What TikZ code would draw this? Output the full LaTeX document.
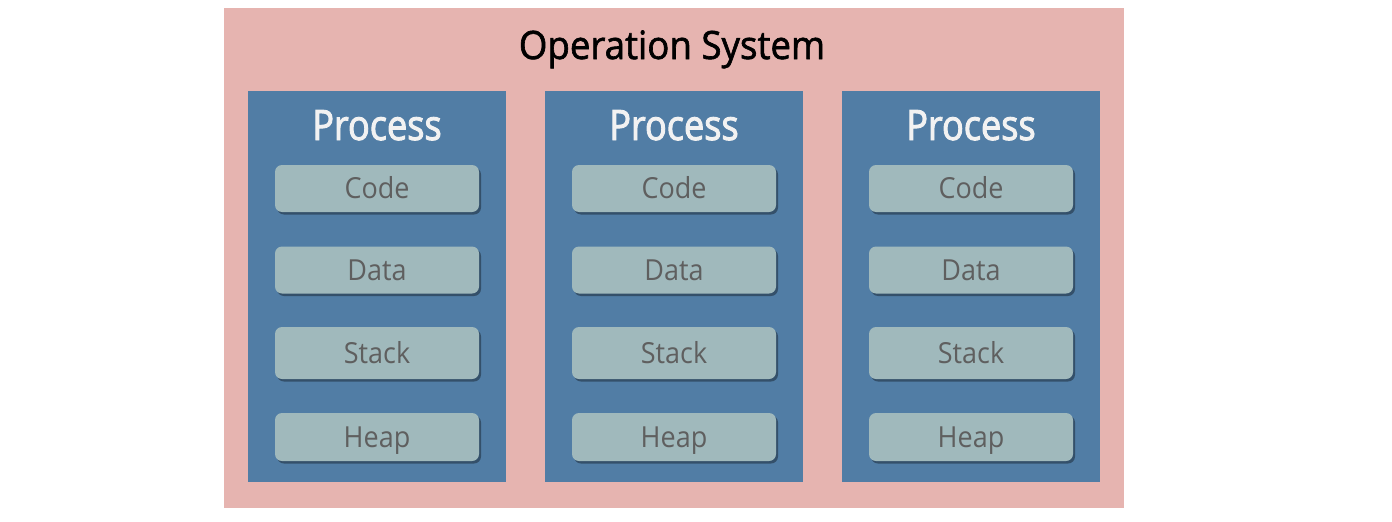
\documentclass[tikz,border=0pt]{standalone}
\usepackage{fontspec}
\setmainfont{Open Sans}
\newfontfamily\titlefont[FakeBold=1.6,FakeStretch=0.94]{Open Sans}
\newfontfamily\procfont[FakeBold=2.2,FakeStretch=0.86]{Open Sans}
\newfontfamily\segfont[FakeStretch=0.93]{Open Sans}
\usetikzlibrary{shadows}
\definecolor{ospink}{HTML}{E6B4B0}
\definecolor{procblue}{HTML}{517DA5}
\definecolor{segfill}{HTML}{A0B9BC}
\definecolor{segtext}{HTML}{5F5F5F}
\definecolor{proctext}{HTML}{F2F2F2}
\tikzset{
  osbox/.style={fill=ospink, draw=none, inner sep=0pt, minimum width=900pt, minimum height=500pt},
  ostitle/.style={font=\titlefont\fontsize{39}{42}\selectfont, text=black, inner sep=0pt, anchor=base},
  procbox/.style={fill=procblue, draw=none, inner sep=0pt, minimum width=258pt, minimum height=391pt},
  proctitle/.style={font=\procfont\fontsize{42}{44}\selectfont, text=proctext, inner sep=0pt, anchor=base},
  segbox/.style={fill=segfill, draw=none, rounded corners=7pt, minimum width=204pt, inner sep=0pt,
    font=\segfont\fontsize{29}{31}\selectfont, text=segtext, text height=20.7pt, text depth=0pt,
    drop shadow={shadow xshift=2pt, shadow yshift=-2.5pt, fill=black!70!procblue, opacity=0.5}}
}
\begin{document}
\begin{tikzpicture}[x=1pt,y=-1pt]
\useasboundingbox (0,0) rectangle (1392,522);
\node[osbox] (os) at (674,258) {};
\node[ostitle] (ostitle) at (672,59) {Operation System};
\foreach \i/\cx in {1/377,2/674,3/971}{
  \node[procbox] (p\i) at (\cx,286.5) {};
  \node[proctitle] (p\i title) at (\cx,140) {Process};
  \node[segbox, minimum height=47pt] (p\i code) at (\cx,188.5) {Code};
  \node[segbox, minimum height=47pt] (p\i data) at (\cx,270) {Data};
  \node[segbox, minimum height=52pt] (p\i stack) at (\cx,353) {Stack};
  \node[segbox, minimum height=48pt] (p\i heap) at (\cx,437) {Heap};
}
\end{tikzpicture}
\end{document}
